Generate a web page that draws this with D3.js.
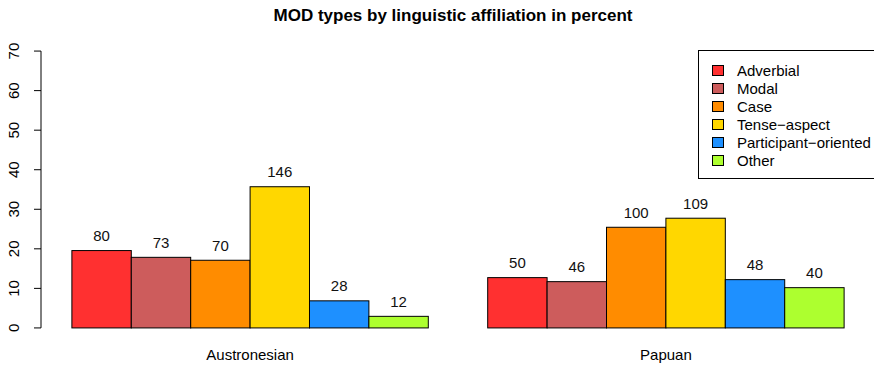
<!DOCTYPE html>
<html><head><meta charset="utf-8">
<script src="https://cdn.jsdelivr.net/npm/d3@7"></script>
<style>body{margin:0;background:#fff}svg{display:block;font-family:"Liberation Sans",Arial,sans-serif}</style>
</head><body><svg id="c" width="874" height="367"></svg>
<script>
const groups = ["Austronesian", "Papuan"];
const types = ["Adverbial", "Modal", "Case", "Tense\u2212aspect", "Participant\u2212oriented", "Other"];
const colors = ["#FF3030", "#CD5C5C", "#FF8C00", "#FFD700", "#1E90FF", "#ADFF2F"];
const countsAustronesian = [80, 73, 70, 146, 28, 12];
const countsPapuan = [50, 46, 100, 109, 48, 40];
const pctAustronesian = [19.56, 17.85, 17.11, 35.70, 6.85, 2.93];
const pctPapuan = [12.72, 11.70, 25.45, 27.74, 12.21, 10.18];
const yTicks = [0, 10, 20, 30, 40, 50, 60, 70];

const svg = d3.select("#c");
const px0 = 41, px1 = 875, py0 = 40, py1 = 339;
const x = d3.scaleLinear().domain([1 - 0.52, 14 + 0.52]).range([px0, px1]);
const y = d3.scaleLinear().domain([-2.8, 72.8]).range([py1, py0]);

svg.append("text").attr("x", 453).attr("y", 21).attr("text-anchor", "middle")
  .attr("font-weight", "bold").attr("font-size", 17).text("MOD types by linguistic affiliation in percent");

const data = [
  {g: groups[0], pct: pctAustronesian, cnt: countsAustronesian, start: 1},
  {g: groups[1], pct: pctPapuan, cnt: countsPapuan, start: 8}
];
data.forEach(d => {
  d.pct.forEach((v, i) => {
    const x0 = x(d.start + i), x1 = x(d.start + i + 1);
    svg.append("rect").attr("x", x0).attr("y", y(v)).attr("width", x1 - x0).attr("height", y(0) - y(v))
      .attr("fill", colors[i]).attr("stroke", "#000").attr("stroke-width", 1);
    svg.append("text").attr("x", (x0 + x1) / 2).attr("y", y(v) - 9.5).attr("text-anchor", "middle")
      .attr("font-size", 15).attr("fill", "#111").text(d.cnt[i]);
  });
  svg.append("text").attr("x", x(d.start + 3)).attr("y", 360).attr("text-anchor", "middle")
    .attr("font-size", 15).text(d.g);
});

// y axis
const ax = svg.append("g").attr("transform", `translate(${px0},0)`);
ax.append("line").attr("x1", 0).attr("x2", 0).attr("y1", y(0)).attr("y2", y(70)).attr("stroke", "#000");
yTicks.forEach(t => {
  ax.append("line").attr("x1", -7).attr("x2", 0).attr("y1", y(t)).attr("y2", y(t)).attr("stroke", "#000");
  ax.append("text").attr("transform", `translate(-22,${y(t)}) rotate(-90)`).attr("text-anchor", "middle")
    .attr("font-size", 15).text(t);
});

// legend
const lg = svg.append("g");
lg.append("rect").attr("x", 698.5).attr("y", 50.5).attr("width", 190).attr("height", 128)
  .attr("fill", "#fff").attr("stroke", "#000");
types.forEach((t, i) => {
  const cy = 70.5 + i * 18;
  lg.append("rect").attr("x", 712.5).attr("y", cy - 5).attr("width", 11).attr("height", 10)
    .attr("fill", colors[i]).attr("stroke", "#000");
  lg.append("text").attr("x", 737).attr("y", cy + 5.5).attr("font-size", 15).text(t);
});
</script></body></html>
